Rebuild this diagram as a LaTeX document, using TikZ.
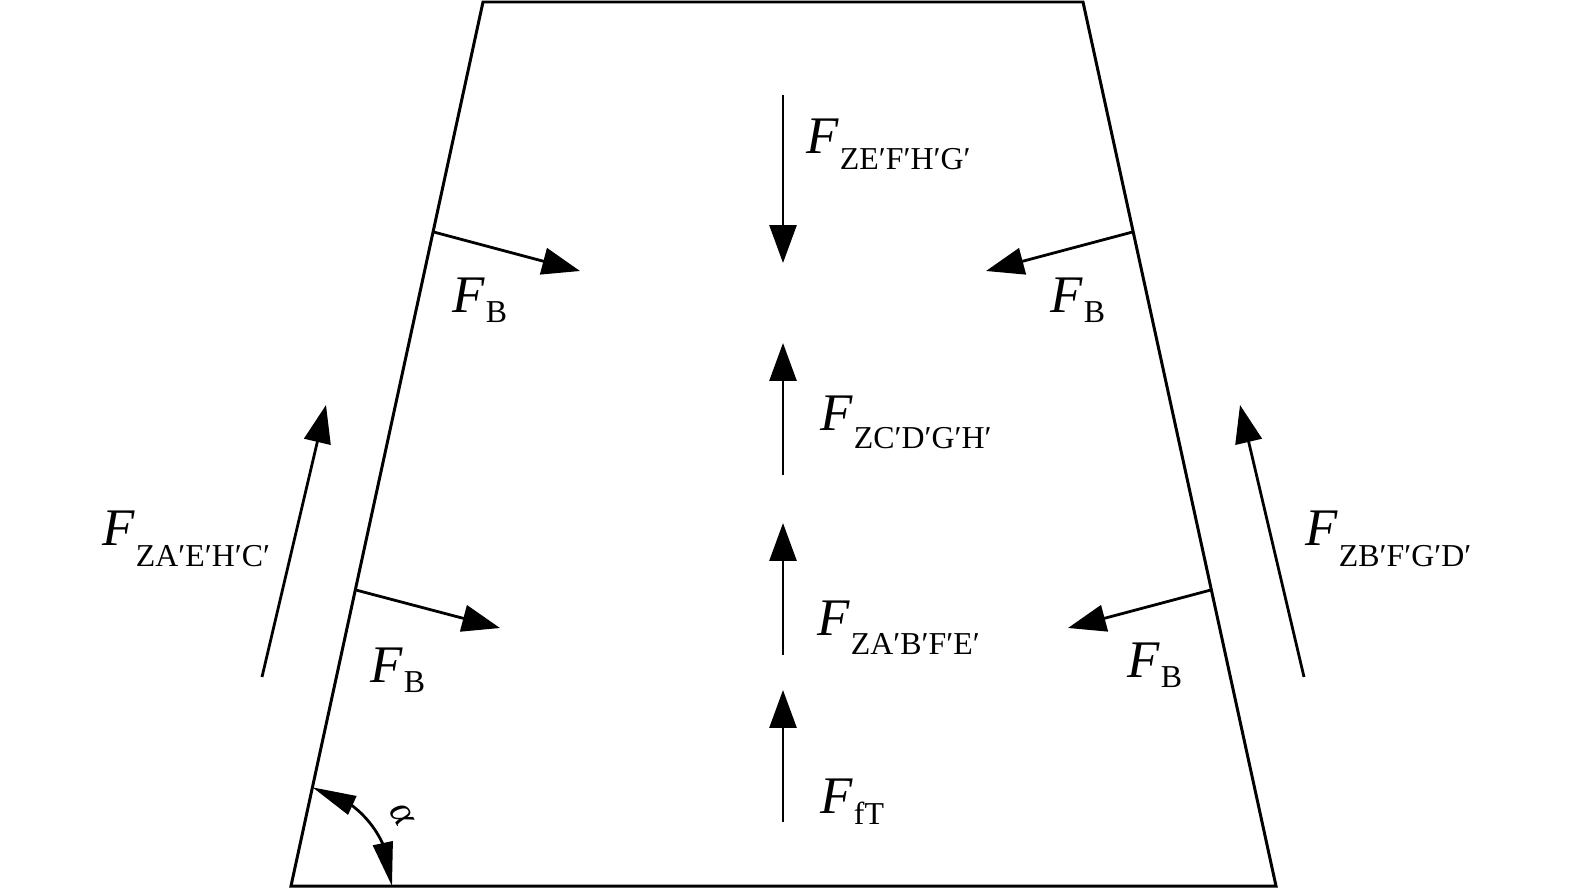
\documentclass[tikz,border=0pt]{standalone}
\usepackage{fontspec}
\setmainfont{Liberation Serif}
\usetikzlibrary{arrows.meta,bending,calc}
\newcommand\flab[3][17pt]{\textit{F}\kern1pt\raisebox{-#1}{\fontsize{32}{33}\selectfont #2}}
\tikzset{
  edgeline/.style={line width=3pt, line join=miter},
  force/.style={line width=2.8pt, -{Triangle[length=38pt,width=27pt]}},
  anglearc/.style={line width=2.8pt, {Triangle[length=44pt,width=20pt]}-{Triangle[length=44pt,width=20pt]}},
  lab/.style={anchor=base west, inner sep=0pt, font=\fontsize{53}{60}\selectfont},
}
\begin{document}
\begin{tikzpicture}[x=1bp,y=-1bp]
\useasboundingbox (0,0) rectangle (1575,893);
% trapezoid
\coordinate (tl) at (483,2);
\coordinate (tr) at (1083,2);
\coordinate (br) at (1276,886);
\coordinate (bl) at (291,886);
\draw[edgeline] (tl) -- (tr) -- (br) -- (bl) -- cycle;
% points on the slanted sides
\coordinate (L1) at ($(tl)!0.260!(bl)$);
\coordinate (L2) at ($(tl)!0.665!(bl)$);
\coordinate (R1) at ($(tr)!0.260!(br)$);
\coordinate (R2) at ($(tr)!0.665!(br)$);
\coordinate (L1e) at (580,271);
\coordinate (L2e) at (500,628);
\coordinate (R1e) at (986,271);
\coordinate (R2e) at (1068,628);
% central vertical arrows
\coordinate (a1s) at (783,95);  \coordinate (a1e) at (783,263);
\coordinate (a2s) at (783,475); \coordinate (a2e) at (783,343);
\coordinate (a3s) at (783,655); \coordinate (a3e) at (783,523);
\coordinate (a4s) at (783,822); \coordinate (a4e) at (783,690);
\draw[force] (a1s) -- (a1e);
\draw[force] (a2s) -- (a2e);
\draw[force] (a3s) -- (a3e);
\draw[force] (a4s) -- (a4e);
% normal forces
\draw[force] (L1) -- (L1e);
\draw[force] (L2) -- (L2e);
\draw[force] (R1) -- (R1e);
\draw[force] (R2) -- (R2e);
% outside arrows
\coordinate (o1s) at (262,677); \coordinate (o1e) at (326,405);
\coordinate (o2s) at (1304,677); \coordinate (o2e) at (1240,405);
\draw[force] (o1s) -- (o1e);
\draw[force] (o2s) -- (o2e);
% angle alpha
\coordinate (arcS) at ($(bl)!101bp!(tl)$);
\draw[anglearc] (arcS) arc[start angle=77.74, end angle=0, radius=101bp];
\node[inner sep=0pt, rotate=-60, font=\fontsize{40}{40}\selectfont\itshape] (alpha) at (402,815) {α};
% labels
\node[lab] (tZE) at (806,153) {\flab[17pt]{ZE′F′H′G′}{}};
\node[lab] (tZC) at (820,430) {\flab[19pt]{ZC′D′G′H′}{}};
\node[lab] (tZAB) at (817,635) {\flab[20pt]{ZA′B′F′E′}{}};
\node[lab] (tfT) at (820,813) {\flab[12pt]{fT}{}};
\node[lab] (tZAE) at (102,545) {\flab[22pt]{ZA′E′H′C′}{}};
\node[lab] (tZBF) at (1305,545) {\flab[22pt]{ZB′F′G′D′}{}};
\node[lab] (tB1) at (452,312) {\flab[11pt]{B}{}};
\node[lab] (tB2) at (1050,312) {\flab[11pt]{B}{}};
\node[lab] (tB3) at (370,682) {\flab[11pt]{B}{}};
\node[lab] (tB4) at (1127,677) {\flab[11pt]{B}{}};
\end{tikzpicture}
\end{document}
